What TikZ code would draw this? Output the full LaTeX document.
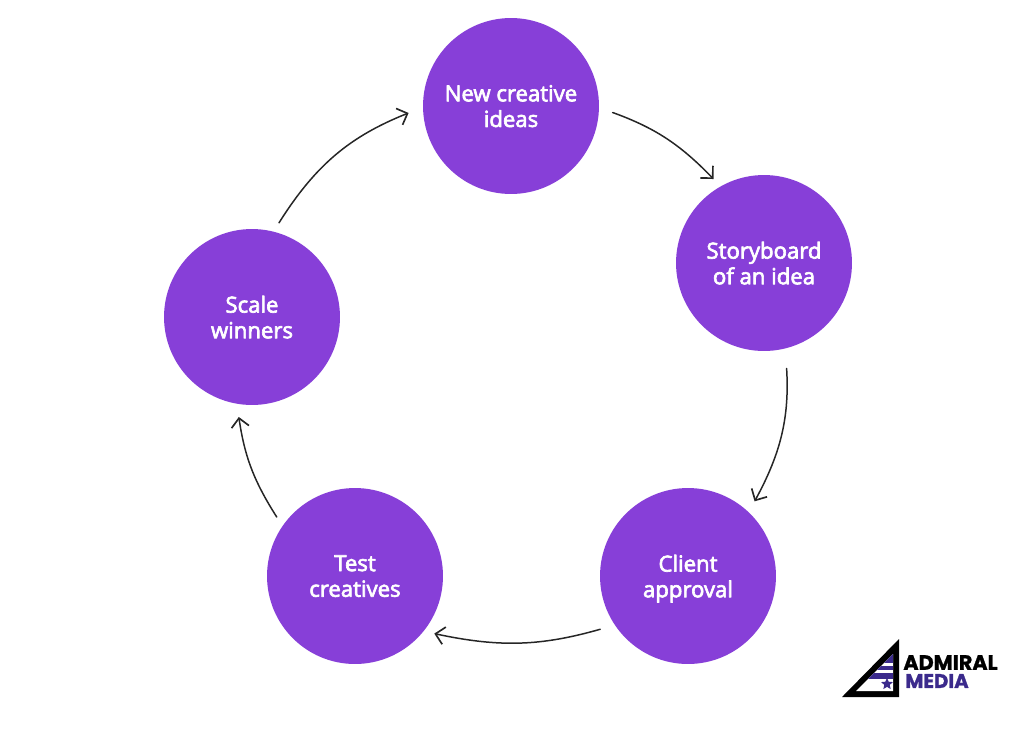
\documentclass[tikz,border=0pt]{standalone}
\usepackage{fontspec}
\setmainfont{Open Sans}[FakeBold=3]
\newfontfamily\logofont{Poppins}[FakeBold=1.2]
\usetikzlibrary{arrows.meta,shapes.geometric}
\definecolor{stagepurple}{HTML}{873FD8}
\definecolor{logoblue}{HTML}{3B2A8C}
\tikzset{
    stage/.style={circle, fill=stagepurple, draw=none, minimum size=3.52cm, inner sep=0pt, outer sep=0.2cm,
        text=white, align=center, font=\fontsize{12.6}{14.6}\selectfont},
    cycle/.style={draw=black!85, line width=0.85pt, -{Straight Barb[length=5pt,width=10pt,line width=0.95pt]}},
    logotext/.style={inner sep=0pt, anchor=west, font=\fontsize{10.6}{12}\logofont\bfseries}
}
\begin{document}
\begin{tikzpicture}[line cap=round, line join=round, x=0.02cm, y=-0.02cm]
    \useasboundingbox (0,0) rectangle (1024,738);

    % The five stages
    \node[stage] (ideas) at (511,106) {New creative\\\smash{ideas}};
    \node[stage] (board) at (764,263) {Storyboard\\\smash{of an idea}};
    \node[stage] (client) at (688,576) {Client\\\smash{approval}};
    \node[stage] (test) at (355,576) {Test\\\smash{creatives}};
    \node[stage] (scale) at (252,317) {Scale\\\smash{winners}};

    % Arrows round the cycle
    \draw[cycle, shorten <=2.3pt] (ideas.-3) to[bend left=13] (board.121);
    \draw[cycle, shorten <=5.7pt, shorten >=1.2pt] (board.-77) to[bend left=16] (client.48);
    \draw[cycle, shorten <=2.8pt] (client.212) to[bend left=14] (test.-36);
    \draw[cycle, shorten >=1.7pt] (test.143) to[bend left=12] (scale.-98);
    \draw[cycle, shorten >=2.8pt] (scale.74) to[bend left=18] (ideas.183);

    % Logo
    \fill[black] (842,697) -- (899,639) -- (899,697) -- cycle;
    \fill[white] (856,691) -- (893,654) -- (893,691) -- cycle;
    \begin{scope}
        \clip (856,691) -- (893,654) -- (893,691) -- cycle;
        \fill[logoblue] (860,654) rectangle (893,663);
        \fill[logoblue] (860,666) rectangle (893,670);
        \fill[logoblue] (860,673) rectangle (893,679);
    \end{scope}
    \node[star, star points=5, star point ratio=2.2, fill=logoblue, inner sep=0pt, minimum size=0.25cm] (flagstar) at (887,684) {};
    \node[logotext, font=\fontsize{11.8}{12}\logofont\bfseries] (admiral) at (903,662.5) {ADMIRAL};
    \node[logotext, text=logoblue, font=\fontsize{11.2}{12}\logofont\bfseries] (media) at (905,681) {MEDIA};
\end{tikzpicture}
\end{document}
